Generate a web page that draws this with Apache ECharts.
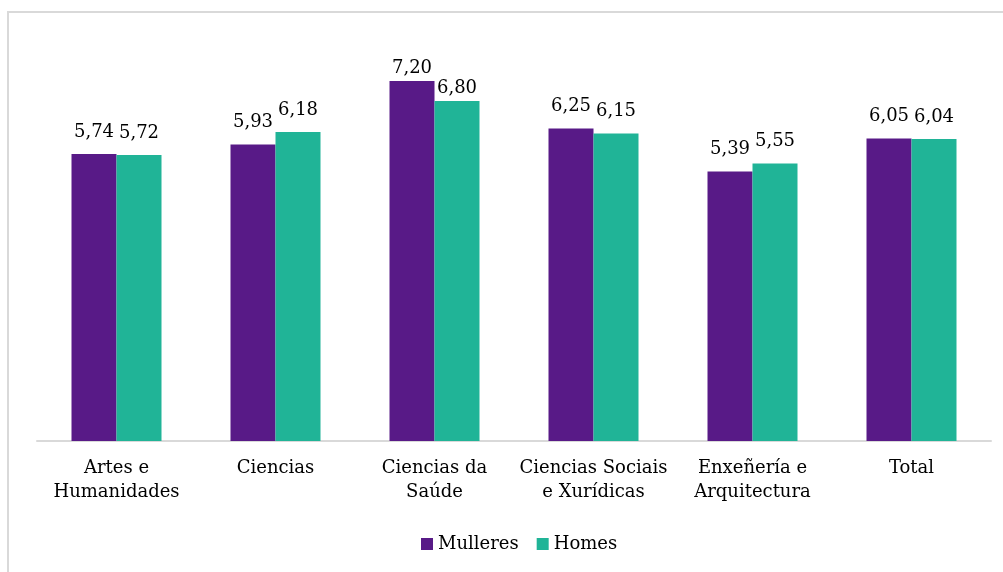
<!DOCTYPE html>
<html>
<head>
<meta charset="utf-8">
<script src="https://cdn.jsdelivr.net/npm/echarts@6/dist/echarts.min.js"></script>
<style>
  html, body { margin: 0; padding: 0; background: #fff; }
  #chart { width: 1003px; height: 572px; }
</style>
</head>
<body>
<div id="chart"></div>
<script>
const categories = [
  "Artes e\nHumanidades",
  "Ciencias",
  "Ciencias da\nSaúde",
  "Ciencias Sociais\ne Xurídicas",
  "Enxeñería e\nArquitectura",
  "Total"
];
const mulleres = [5.74, 5.93, 7.20, 6.25, 5.39, 6.05];
const homes = [5.72, 6.18, 6.80, 6.15, 5.55, 6.04];

const font = "DejaVu Serif";
const fmt = (p) => p.value.toFixed(2).replace(".", ",");

// labels sit closer to the tallest group, as in the original
const withLabels = (arr) => arr.map((v, i) =>
  i === 2 ? { value: v, label: { distance: 4 } } : v);

const labelStyle = {
  show: true,
  position: "top",
  distance: 13,
  formatter: fmt,
  fontFamily: font,
  fontSize: 18,
  color: "#000"
};

const chart = echarts.init(document.getElementById("chart"));
chart.setOption({
  animation: false,
  textStyle: { fontFamily: font },
  graphic: [
    {
      type: "rect",
      shape: { x: 8, y: 12, width: 1010, height: 580 },
      style: { fill: "none", stroke: "#d9d9d9", lineWidth: 2 },
      silent: true
    }
  ],
  grid: { left: 37, right: 12, top: 41, bottom: 131 },
  legend: {
    bottom: 14,
    left: 416,
    itemWidth: 12,
    itemHeight: 12,
    itemGap: 18,
    icon: "rect",
    textStyle: { fontFamily: font, fontSize: 18, color: "#000" },
    data: ["Mulleres", "Homes"]
  },
  xAxis: {
    type: "category",
    data: categories,
    axisTick: { show: false },
    axisLine: { lineStyle: { color: "#d9d9d9", width: 2 } },
    axisLabel: {
      fontFamily: font,
      fontSize: 18,
      color: "#000",
      lineHeight: 24,
      margin: 15,
      interval: 0
    }
  },
  yAxis: {
    type: "value",
    min: 0,
    max: 8,
    show: false,
    splitLine: { show: false }
  },
  series: [
    {
      name: "Mulleres",
      type: "bar",
      data: withLabels(mulleres),
      barWidth: 45,
      barGap: "0%",
      itemStyle: { color: "#581a87" },
      label: labelStyle
    },
    {
      name: "Homes",
      type: "bar",
      data: withLabels(homes),
      barWidth: 45,
      itemStyle: { color: "#20b497" },
      label: labelStyle
    }
  ]
});
</script>
</body>
</html>
